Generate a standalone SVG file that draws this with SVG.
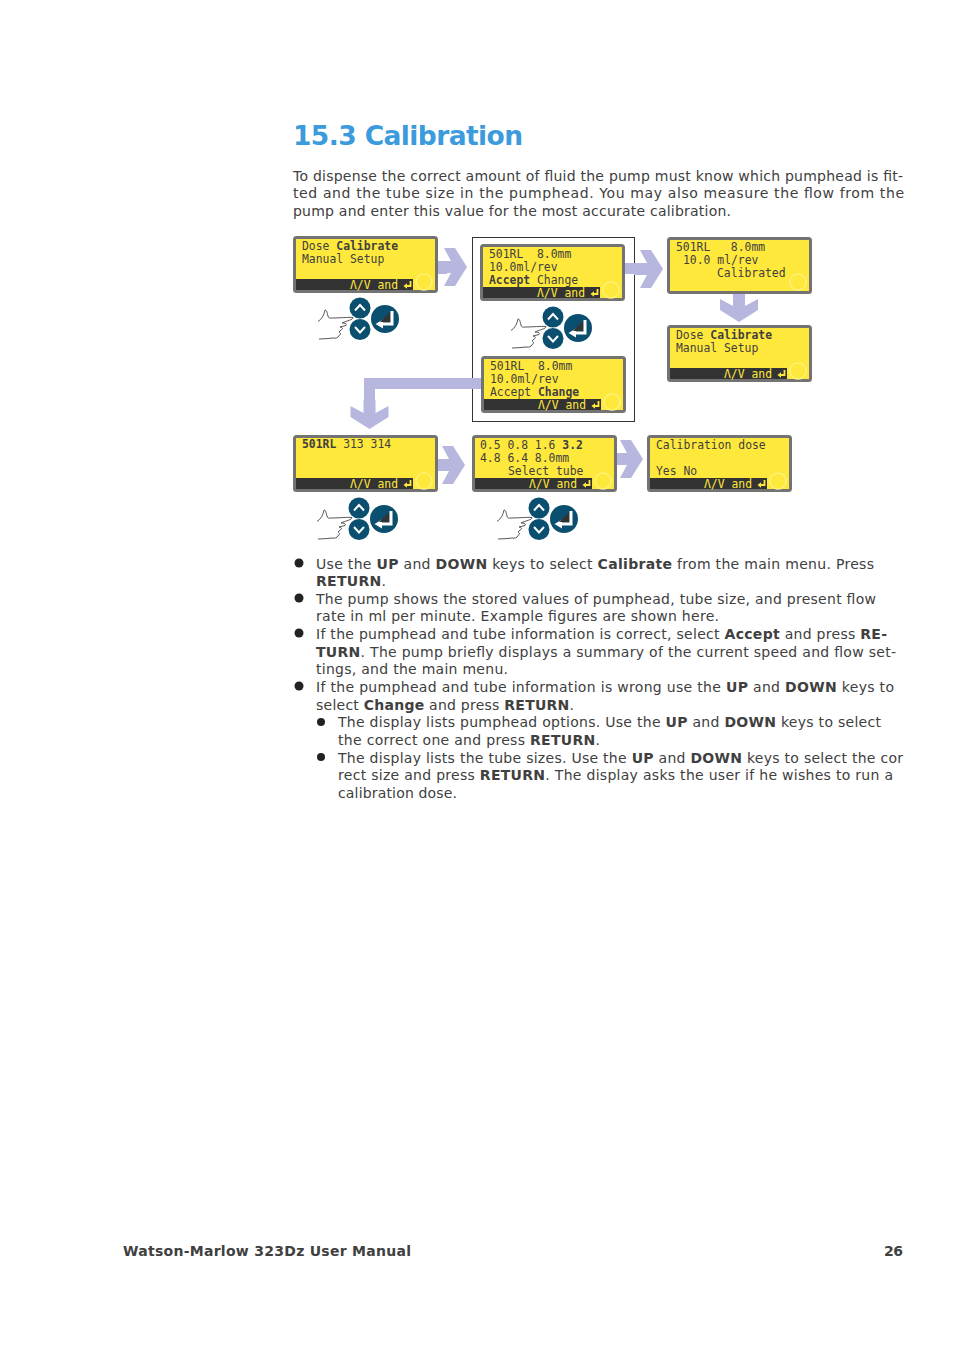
<svg xmlns="http://www.w3.org/2000/svg" width="954" height="1350" viewBox="0 0 954 1350">
<style>
text{font-family:"DejaVu Sans","Liberation Sans",sans-serif;fill:#404040}
.b{font-size:14px}
.s{font-weight:bold}
.t{font-size:26.5px;font-weight:bold;fill:#3c9bdc}
.f{font-size:14px;font-weight:bold}
.l{font-family:"DejaVu Sans Mono","Liberation Mono",monospace;font-size:11.4px;fill:#3f3f3f;white-space:pre}
.k{font-family:"DejaVu Sans Mono","Liberation Mono",monospace;font-size:11.4px;fill:#ffe83c}
.fr{fill:#ffe83c;stroke:#737373;stroke-width:3}
.bar{fill:#333333}
.ring{fill:none;stroke:#fff27a;stroke-width:1.500}
.ar{fill:#b6b6de}
.key{fill:#0b4f70}
.chev{fill:none;stroke:#fff;stroke-width:2}
.hand{fill:none;stroke:#444;stroke-width:.9}
</style>
<defs>
<path id="arrow" class="ar" d="M-29,-6L-16,-6L-23,-19L-12,-19L0,0L-12,19L-23,19L-16,6L-29,6Z"/>
<g id="keypad">
<circle class="key" cx="0" cy="0" r="10.500"/>
<circle class="key" cx="0" cy="21.500" r="10.500"/>
<circle class="key" cx="25" cy="11" r="14"/>
<path class="chev" d="M-5,2.500L0,-3L5,2.500M-5,19L0,24.500L5,19"/>
<path d="M32,3V16H19" fill="none" stroke="#fff" stroke-width="3"/>
<path d="M23,11.500L15.500,16L23,20.500Z" fill="#fff"/>
<path d="M30,4V14H20Z" fill="#333"/>
<path class="hand" d="M-42,13.500C-38,11-36,7-35,2C-33,2-33,5-32,8C-32,10-30,10.500-28,10C-20,10-12,9-7,9.500C-7,12-13,12.500-18,15C-14,15-13,16-14,17.500L-20,19C-17,19.500-17,21-19,22L-21,24C-19,25-19,26.500-21,27.500C-22,30-24,30.500-27,30C-32,30.500-36,31-41,31"/>
</g>
<g id="lcdbar"><rect class="bar" width="117" height="11"/><text class="k" x="54" y="9.500">Λ/V and</text><path d="M114.500,2V7H110" fill="none" stroke="#ffe83c" stroke-width="1.800"/><path d="M111,4.300L107.500,7L111,9.700Z" fill="#ffe83c"/></g>
</defs>
<rect width="954" height="1350" fill="#fff"/>
<text class="t" x="293" y="145" textLength="230">15.3 Calibration</text>
<g id="intro" class="b">
<text class="b" x="293" y="181" textLength="610">To dispense the correct amount of fluid the pump must know which pumphead is fit-</text>
<text class="b" x="293" y="198" textLength="611">ted and the tube size in the pumphead. You may also measure the flow from the</text>
<text class="b" x="293" y="216" textLength="438">pump and enter this value for the most accurate calibration.</text>
</g>
<rect id="group-box" x="472.500" y="237.500" width="162" height="184" fill="#fff" stroke="#333" stroke-width="1"/>
<g id="connectors">
<path class="ar" d="M438,262H447V274H438Z"/><use href="#arrow" transform="translate(467,267)"/>
<path class="ar" d="M625,263H650V274H625Z"/><use href="#arrow" transform="translate(663,269)"/>
<use href="#arrow" transform="translate(739,322) rotate(90)"/><path class="ar" d="M733,293H745V305H733Z"/>
<path class="ar" d="M481,378H364V412H375V389H481Z"/><use href="#arrow" transform="translate(369.500,429) rotate(90)"/>
<use href="#arrow" transform="translate(465,465)"/><path class="ar" d="M438,459H446V471H438Z"/>
<use href="#arrow" transform="translate(643,459)"/><path class="ar" d="M617,453H625V465H617Z"/>
</g>
<g id="lcd-a"><rect class="fr" x="294.500" y="237.500" width="142" height="54" rx="2"/><use href="#lcdbar" x="296" y="279"/><circle class="ring" cx="424" cy="282" r="8"/>
<text class="l" x="302" y="250">Dose <tspan class="s">Calibrate</tspan></text><text class="l" x="302" y="263">Manual Setup</text></g>
<g id="lcd-b"><rect class="fr" x="481.500" y="245.500" width="142" height="54" rx="2"/><use href="#lcdbar" x="483" y="287"/><circle class="ring" cx="611" cy="290" r="8"/>
<text class="l" x="489" y="258">501RL  8.0mm</text><text class="l" x="489" y="271">10.0ml/rev</text><text class="l" x="489" y="284"><tspan class="s">Accept</tspan> Change</text></g>
<g id="lcd-c"><rect class="fr" x="668.500" y="238.500" width="142" height="54" rx="2"/><circle class="ring" cx="798" cy="282" r="8"/>
<text class="l" x="676" y="251">501RL   8.0mm</text><text class="l" x="683" y="264">10.0 ml/rev</text><text class="l" x="717" y="277">Calibrated</text></g>
<g id="lcd-d"><rect class="fr" x="668.500" y="326.500" width="142" height="54" rx="2"/><use href="#lcdbar" x="670" y="368"/><circle class="ring" cx="798" cy="371" r="8"/>
<text class="l" x="676" y="339">Dose <tspan class="s">Calibrate</tspan></text><text class="l" x="676" y="352">Manual Setup</text></g>
<g id="lcd-e"><rect class="fr" x="482.500" y="357.500" width="142" height="54" rx="2"/><use href="#lcdbar" x="484" y="399"/><circle class="ring" cx="612" cy="402" r="8"/>
<text class="l" x="490" y="370">501RL  8.0mm</text><text class="l" x="490" y="383">10.0ml/rev</text><text class="l" x="490" y="396">Accept <tspan class="s">Change</tspan></text></g>
<g id="lcd-f"><rect class="fr" x="294.500" y="436.500" width="142" height="54" rx="2"/><use href="#lcdbar" x="296" y="478"/><circle class="ring" cx="424" cy="481" r="8"/>
<text class="l" x="302" y="448"><tspan class="s">501RL</tspan> 313 314</text></g>
<g id="lcd-g"><rect class="fr" x="473.500" y="436.500" width="142" height="54" rx="2"/><use href="#lcdbar" x="475" y="478"/><circle class="ring" cx="603" cy="481" r="8"/>
<text class="l" x="480" y="449">0.5 0.8 1.6 <tspan class="s">3.2</tspan></text><text class="l" x="480" y="462">4.8 6.4 8.0mm</text><text class="l" x="508" y="475">Select tube</text></g>
<g id="lcd-h"><rect class="fr" x="648.500" y="436.500" width="142" height="54" rx="2"/><use href="#lcdbar" x="650" y="478"/><circle class="ring" cx="778" cy="481" r="8"/>
<text class="l" x="656" y="449">Calibration dose</text><text class="l" x="656" y="475">Yes No</text></g>
<g id="keypad-1"><use href="#keypad" x="360" y="308"/></g>
<g id="keypad-2"><use href="#keypad" x="553" y="317"/></g>
<g id="keypad-3"><use href="#keypad" x="359" y="508"/></g>
<g id="keypad-4"><use href="#keypad" x="539" y="508"/></g>
<g id="bullets" fill="#222">
<circle cx="299" cy="563" r="4.500"/><circle cx="299" cy="598" r="4.500"/><circle cx="299" cy="633" r="4.500"/><circle cx="299" cy="686" r="4.500"/><circle cx="321" cy="722" r="4"/><circle cx="321" cy="757" r="4"/>
</g>
<g id="list">
<text class="b" x="316" y="569" textLength="558">Use the <tspan class="s">UP</tspan> and <tspan class="s">DOWN</tspan> keys to select <tspan class="s">Calibrate</tspan> from the main menu. Press</text>
<text class="b" x="316" y="586" textLength="70"><tspan class="s">RETURN</tspan>.</text>
<text class="b" x="316" y="604" textLength="560">The pump shows the stored values of pumphead, tube size, and present flow</text>
<text class="b" x="316" y="621" textLength="403">rate in ml per minute. Example figures are shown here.</text>
<text class="b" x="316" y="639" textLength="571">If the pumphead and tube information is correct, select <tspan class="s">Accept</tspan> and press <tspan class="s">RE-</tspan></text>
<text class="b" x="316" y="657" textLength="580"><tspan class="s">TURN</tspan>. The pump briefly displays a summary of the current speed and flow set-</text>
<text class="b" x="316" y="674" textLength="192">tings, and the main menu.</text>
<text class="b" x="316" y="692" textLength="578">If the pumphead and tube information is wrong use the <tspan class="s">UP</tspan> and <tspan class="s">DOWN</tspan> keys to</text>
<text class="b" x="316" y="710" textLength="258">select <tspan class="s">Change</tspan> and press <tspan class="s">RETURN</tspan>.</text>
<text class="b" x="338" y="727" textLength="543">The display lists pumphead options. Use the <tspan class="s">UP</tspan> and <tspan class="s">DOWN</tspan> keys to select</text>
<text class="b" x="338" y="745" textLength="262">the correct one and press <tspan class="s">RETURN</tspan>.</text>
<text class="b" x="338" y="763" textLength="565">The display lists the tube sizes. Use the <tspan class="s">UP</tspan> and <tspan class="s">DOWN</tspan> keys to select the cor</text>
<text class="b" x="338" y="780" textLength="555">rect size and press <tspan class="s">RETURN</tspan>. The display asks the user if he wishes to run a</text>
<text class="b" x="338" y="798" textLength="119">calibration dose.</text>
</g>
<g id="footer">
<text class="f" x="123" y="1256" textLength="288">Watson-Marlow 323Dz User Manual</text>
<text class="f" x="884" y="1256" textLength="19">26</text>
</g>
</svg>
